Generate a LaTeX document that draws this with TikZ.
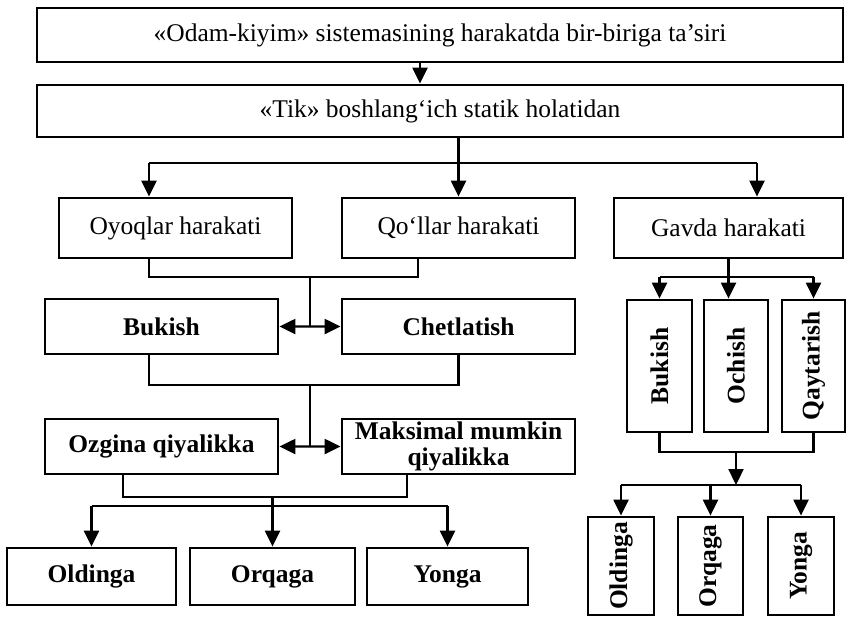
\documentclass[tikz,border=0pt]{standalone}
\usepackage{fontspec}
\setmainfont{Liberation Serif}
\usetikzlibrary{arrows.meta,calc}
\tikzset{
  box/.style={draw, line width=1.6pt, align=center, inner sep=1pt,
    font=\fontsize{14.5}{15}\selectfont},
  bbox/.style={box, font=\fontsize{14.5}{15}\selectfont\bfseries},
  hbox/.style={bbox, minimum width=4.66cm, minimum height=1.1cm},
  lowbox/.style={bbox, minimum height=1.14cm},
  vbox/.style={bbox, rotate=90},
  link/.style={line width=1.3pt},
}
\begin{document}
\begin{tikzpicture}[>={Triangle[length=0.32cm,width=0.3cm]}]
\useasboundingbox (0,0) rectangle (16.94,-12.4);
% upper part
\node[box, minimum width=16.12cm, minimum height=1.08cm] (odam) at (8.80,-0.70)
  {«Odam-kiyim» sistemasining harakatda bir-biriga ta’siri};
\node[box, minimum width=16.12cm, minimum height=1.04cm] (tik) at (8.80,-2.22)
  {«Tik» boshlang‘ich statik holatidan};
\node[box, minimum width=4.66cm, minimum height=1.2cm] (oyoq) at (3.51,-4.56) {Oyoqlar harakati};
\node[box, minimum width=4.66cm, minimum height=1.2cm] (qol) at (9.17,-4.56) {Qo‘llar harakati};
\node[box, minimum width=4.58cm, minimum height=1.2cm] (gavda) at (14.57,-4.56) {Gavda harakati};
% left branch
\node[hbox] (bukish) at (3.23,-6.53) {Bukish};
\node[hbox] (chet) at (9.17,-6.53) {Chetlatish};
\node[hbox] (ozgina) at (3.23,-8.93) {Ozgina qiyalikka};
\node[hbox] (maks) at (9.17,-8.93) {Maksimal mumkin\\qiyalikka};
\node[lowbox, minimum width=3.38cm] (oldinga) at (1.83,-11.53) {Oldinga};
\node[lowbox, minimum width=3.30cm] (orqaga) at (5.45,-11.53) {Orqaga};
\node[lowbox, minimum width=3.22cm] (yonga) at (8.95,-11.53) {Yonga};
% right branch
\node[vbox, minimum width=2.64cm, minimum height=1.30cm] (gbuk) at (13.19,-7.32) {Bukish};
\node[vbox, minimum width=2.64cm, minimum height=1.28cm] (goch) at (14.72,-7.32) {Ochish};
\node[vbox, minimum width=2.64cm, minimum height=1.26cm] (gqay) at (16.27,-7.32) {Qaytarish};
\node[vbox, minimum width=1.96cm, minimum height=1.32cm] (gold) at (12.42,-11.32) {Oldinga};
\node[vbox, minimum width=1.96cm, minimum height=1.30cm] (gorq) at (14.21,-11.32) {Orqaga};
\node[vbox, minimum width=1.96cm, minimum height=1.32cm] (gyon) at (16.02,-11.32) {Yonga};

% levels of the branch lines
\coordinate (rowA) at (0,-3.26);
\coordinate (rowB) at (0,-5.54);
\coordinate (rowC) at (0,-7.70);
\coordinate (rowD) at (0,-9.94);
\coordinate (rowE) at (0,-10.12);
\coordinate (rowF) at (0,-9.04);
\coordinate (rowG) at (0,-9.70);
\coordinate (oyoqin) at ([xshift=-0.53cm]oyoq.north);
\coordinate (gavin) at ([xshift=0.57cm]gavda.north);
\coordinate (oyoqout) at ([xshift=-0.53cm]oyoq.south);
\coordinate (qolout) at ([xshift=-0.81cm]qol.south);
\coordinate (bukout) at ([xshift=-0.25cm]bukish.south);
\coordinate (ozout) at ([xshift=-0.77cm]ozgina.south);
\coordinate (maksout) at ([xshift=-1.03cm]maks.south);
\coordinate (mid1) at ($(bukish.east)!.5!(chet.west)$);
\coordinate (mid2) at ($(ozgina.east)!.5!(maks.west)$);

\begin{scope}[link]
\draw[->] ([xshift=-0.4cm]odam.south) -- ([xshift=-0.4cm]tik.north);
\draw (rowA -| oyoqin) -- (rowA -| gavin);
\draw[->] (tik.south -| qol.north) -- (qol.north);
\draw[->] (rowA -| oyoqin) -- (oyoqin);
\draw[->] (rowA -| gavin) -- (gavin);

\draw (oyoqout) |- (rowB -| qolout) -- (qolout);
\draw (rowB -| mid1) -- (mid1);
\draw[->] (mid1) -- (bukish.east);
\draw[->] (mid1) -- (chet.west);

\draw (bukout) |- (rowC -| chet.south) -- (chet.south);
\draw (rowC -| mid2) -- (mid2);
\draw[->] (mid2) -- (ozgina.east);
\draw[->] (mid2) -- (maks.west);

\draw (ozout) |- (rowD -| maksout) -- (maksout);
\draw (rowD -| orqaga) -- (rowE -| orqaga);
\draw (rowE -| oldinga) -- (rowE -| yonga);
\draw[->] (rowE -| oldinga) -- (oldinga);
\draw[->] (rowE -| orqaga) -- (orqaga);
\draw[->] (rowE -| yonga) -- (yonga);

\draw (gavda.south) -- (rowB -| gavda.south);
\draw (rowB -| gbuk) -- (rowB -| gqay);
\draw[->] (rowB -| gbuk) -- (gbuk);
\draw[->] (gavda.south) -- (gavda.south |- goch.east);
\draw[->] (rowB -| gqay) -- (gqay);

\draw (gbuk.west) |- (rowF -| gqay.west) -- (gqay.west);
\draw[->] (rowF -| goch) -- (rowG -| goch);
\draw (rowG -| gold) -- (rowG -| gyon);
\draw[->] (rowG -| gold) -- (gold);
\draw[->] (rowG -| gorq) -- (gorq);
\draw[->] (rowG -| gyon) -- (gyon);
\end{scope}
\end{tikzpicture}
\end{document}
